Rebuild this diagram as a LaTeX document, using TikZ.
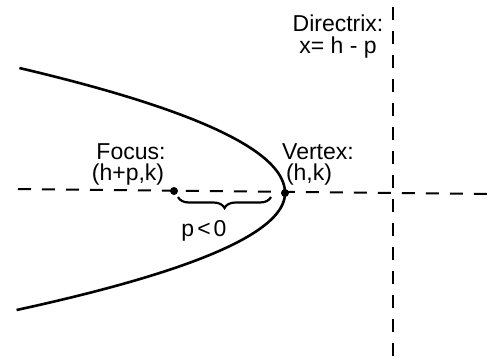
\documentclass[tikz,border=0pt]{standalone}
\usepackage{fontspec}
\setmainfont{Liberation Sans}
\usetikzlibrary{decorations.pathreplacing}
\begin{document}
\begin{tikzpicture}[x=1pt,y=-1pt,
  lbl/.style={inner sep=0pt,font=\fontsize{23}{25}\selectfont},
  dashline/.style={line width=2pt,dash pattern=on 13pt off 11pt},
  curve/.style={line width=2.6pt,line join=round},
  dotp/.style={circle,fill=black,inner sep=0pt,minimum size=8pt}]
\useasboundingbox (0,0) rectangle (489,360);
% axis and directrix
\coordinate (axL) at (18,189);
\coordinate (axR) at (489,194);
\coordinate (dT) at (393,7);
\coordinate (dB) at (393,360);
\draw[dashline] (axL) -- (axR);
\draw[dashline] (dT) -- (dB);
% parabola (two halves meeting at the vertex)
\draw[curve] plot[domain=125:0,samples=60,variable=\t] ({285-0.017*\t*\t},{193-\t})
  -- plot[domain=0:117,samples=60,variable=\t] ({285-0.0196*\t*\t},{193+\t});
% points
\node[dotp] (F) at (174,191) {};
\node[dotp] (V) at (285,193) {};
% brace
\coordinate (bL) at (178,197);
\coordinate (bR) at (271,197);
\draw[line width=2.2pt,decorate,decoration={brace,mirror,amplitude=11pt}] (bL) -- (bR);
% labels
\node[lbl] (focus) at (131,152) {Focus:};
\node[lbl] (focusc) at (128,175) {(h+p,k)};
\node[lbl] (vertex) at (318,152) {Vertex:};
\node[lbl] (vertexc) at (309,175) {(h,k)};
\node[lbl] (dir) at (338,23) {Directrix:};
\node[lbl] (direq) at (338,48) {x= h - p};
\node[lbl] (pneg) at (204,231) {p\kern3pt<\kern3pt0};
\end{tikzpicture}
\end{document}
